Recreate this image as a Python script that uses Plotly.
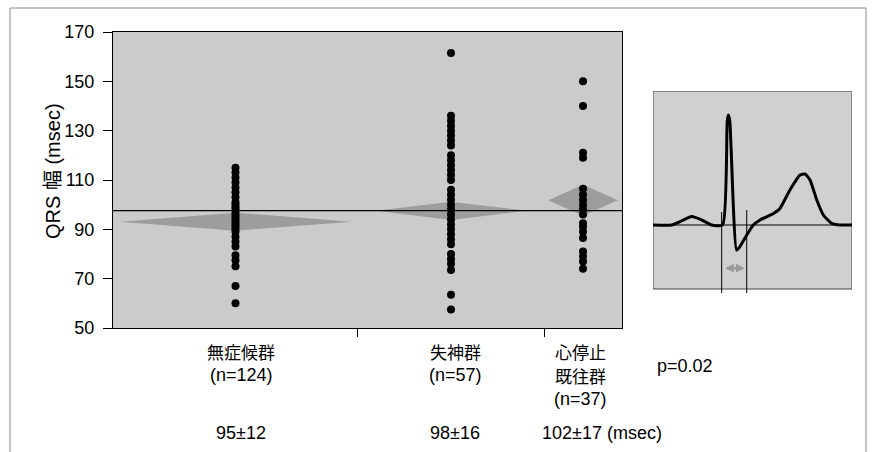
import plotly.graph_objects as go

# ---------------- data ----------------
group_labels = [["無症候群", "(n=124)"], ["失神群", "(n=57)"], ["心停止", "既往群", "(n=37)"]]
group_n = [124, 57, 37]
group_bounds = [0.0, 0.4813, 0.8468, 1.0]          # category band edges on the x axis
group_means = [93.1, 97.5, 101.8]                   # mean diamonds
group_ci_half = [3.65, 3.7, 6.3]                    # diamond half heights
grand_mean = 97.6
summary_labels = ["95±12", "98±16", "102±17 (msec)"]
p_label = "p=0.02"

g1_values = [115, 113, 111, 109, 107, 105, 103, 101, 100, 99, 98, 97, 96, 95, 94, 93,
             92, 91, 90, 89, 87, 85, 83, 79.5, 77.5, 75, 67, 60]
g2_values = [161.5, 136, 134, 132, 130, 128, 126, 124, 120, 118, 116, 114, 112, 110,
             106, 104, 102, 100, 98, 96, 94, 92, 90, 88, 86, 84, 80, 78, 76, 73.5, 63.5, 57.5]
g3_values = [150, 140, 121, 119, 106.5, 104, 102, 100, 98, 96, 92.5, 91, 89, 86.5,
             81, 79, 77, 74]

y_ticks = [50, 70, 90, 110, 130, 150, 170]

# schematic ECG of the inset (time units 0-100, amplitude units)
ecg_t = [0, 9.4, 13.6, 19.4, 24.5, 29.5, 35.0, 37.3, 37.9, 38.6, 42.0, 43.7, 47.1, 50.4,
         53.8, 60.5, 63.8, 68.8, 73.9, 76.4, 78.9, 82.3, 85.6, 89.8, 94.0, 100]
ecg_v = [0, 0, 1.7, 4.2, 2.5, 0, 0, 52, 55, 52, -12.5, -10.8, -5, 0,
         2.5, 5.8, 8.3, 17.5, 25, 25.5, 22.5, 12.5, 5, 0.8, 0, 0]
qrs_start, qrs_end = 34.5, 47.1

FONT = "Liberation Sans, Arial, Noto Sans CJK JP"
CJK = "Noto Sans CJK JP"
W, H = 876, 452


def px_x(p):
    return p / W


def px_y(p):
    return 1 - p / H


fig = go.Figure()

diamond_pad = [0.012, 0.035, 0.008]
series = [g1_values, g2_values, g3_values]
centers = [(group_bounds[i] + group_bounds[i + 1]) / 2 for i in range(3)]

# mean diamonds
for i in range(3):
    c = centers[i]
    half_w = (group_bounds[i + 1] - group_bounds[i]) / 2 - diamond_pad[i]
    m, h = group_means[i], group_ci_half[i]
    fig.add_trace(go.Scatter(
        x=[c - half_w, c, c + half_w, c, c - half_w],
        y=[m, m + h, m, m - h, m],
        fill="toself", fillcolor="#9d9d9d", mode="lines",
        line=dict(width=0, color="#9d9d9d"), hoverinfo="skip", showlegend=False,
        xaxis="x", yaxis="y"))

# grand mean line
fig.add_trace(go.Scatter(x=[0, 1], y=[grand_mean, grand_mean], mode="lines",
                         line=dict(color="black", width=1.3), showlegend=False,
                         xaxis="x", yaxis="y"))

# data points
for i in range(3):
    fig.add_trace(go.Scatter(
        x=[centers[i]] * len(series[i]), y=series[i], mode="markers",
        marker=dict(color="black", size=8, line=dict(width=0)),
        showlegend=False, xaxis="x", yaxis="y"))

# ECG inset
fig.add_trace(go.Scatter(x=[0, 100], y=[0, 0], mode="lines",
                         line=dict(color="black", width=1.2), showlegend=False,
                         xaxis="x2", yaxis="y2"))
fig.add_trace(go.Scatter(x=ecg_t, y=ecg_v, mode="lines",
                         line=dict(color="black", width=3, shape="spline", smoothing=0.5),
                         showlegend=False, xaxis="x2", yaxis="y2"))

shapes = [
    # outer frame
    dict(type="rect", xref="paper", yref="paper", x0=px_x(10), x1=px_x(866),
         y0=-0.05, y1=px_y(8), line=dict(color="#8a8a8a", width=1), layer="below"),
    # main plot background
    dict(type="rect", xref="x", yref="y", x0=0, x1=1, y0=50, y1=170,
         fillcolor="#cbcbcb", line=dict(width=0), layer="below"),
    # inset box
    dict(type="rect", xref="x2", yref="y2", x0=0, x1=100, y0=-32, y1=67,
         fillcolor="#d0d0d0", line=dict(color="#444", width=1), layer="below"),
    # QRS marker lines
    dict(type="line", xref="x2", yref="y2", x0=qrs_start, x1=qrs_start, y0=6.5, y1=-34,
         line=dict(color="black", width=1)),
    dict(type="line", xref="x2", yref="y2", x0=qrs_end, x1=qrs_end, y0=7.5, y1=-34,
         line=dict(color="black", width=1)),
]


def label(text, x, y, size=18, family=FONT, xanchor="center", angle=0):
    return dict(text=text, xref="paper", yref="paper", x=px_x(x), y=px_y(y),
                xanchor=xanchor, yanchor="middle", showarrow=False, textangle=angle,
                font=dict(size=size, color="black", family=family))


annotations = []
# y-axis title
annotations.append(label("QRS 幅 (msec)", 53, 171, size=20, angle=-90))
# category labels
label_cx = [241, 455, 580]
line_y = [351, 375, 399]
for i, lines in enumerate(group_labels):
    for j, t in enumerate(lines):
        is_cjk = not t.startswith("(")
        annotations.append(label(t, label_cx[i], line_y[j], size=17 if is_cjk else 18,
                                 family=CJK if is_cjk else FONT))
# summary row
for i, t in enumerate(summary_labels):
    if i < 2:
        annotations.append(label(t, label_cx[i], 433))
    else:
        annotations.append(label(t, 540, 433, xanchor="left"))
annotations.append(label(p_label, 655, 366, xanchor="left"))
# QRS width arrow
annotations.append(dict(text="", xref="x2", yref="y2", axref="x2", ayref="y2",
                        x=qrs_end - 1, y=-21.6, ax=qrs_start + 1, ay=-21.6,
                        showarrow=True, arrowside="end+start", arrowhead=2,
                        arrowsize=0.7, arrowwidth=2.5, arrowcolor="#9a9a9a"))

fig.update_layout(
    width=W, height=H, autosize=False,
    margin=dict(l=0, r=0, t=0, b=0, autoexpand=False),
    paper_bgcolor="white", plot_bgcolor="rgba(0,0,0,0)",
    font=dict(family=FONT, color="black", size=18),
    xaxis=dict(domain=[px_x(113), px_x(622)], range=[0, 1],
               tickvals=[group_bounds[1], group_bounds[2]], ticks="outside", ticklen=8,
               tickcolor="black", showticklabels=False, showgrid=False, zeroline=False,
               showline=True, linecolor="black", linewidth=1, mirror=True, automargin=False),
    yaxis=dict(domain=[px_y(328), px_y(32)], range=[50, 170], tickvals=y_ticks,
               ticks="outside", ticklen=9, tickcolor="black", showgrid=False, zeroline=False,
               showline=True, linecolor="black", linewidth=1, mirror=True, automargin=False,
               tickfont=dict(size=18, family=FONT), ticklabelstandoff=5),
    xaxis2=dict(domain=[px_x(653), px_x(852)], range=[0, 100], visible=False, anchor="y2"),
    yaxis2=dict(domain=[px_y(297), px_y(91)], range=[-36, 67], visible=False, anchor="x2"),
    shapes=shapes,
    annotations=annotations,
)

fig.write_html(
    "out.html",
    config={"responsive": False, "displayModeBar": False},
    post_script="document.body.style.margin='0';document.body.style.padding='0';"
                "document.body.style.overflow='hidden';",
)
